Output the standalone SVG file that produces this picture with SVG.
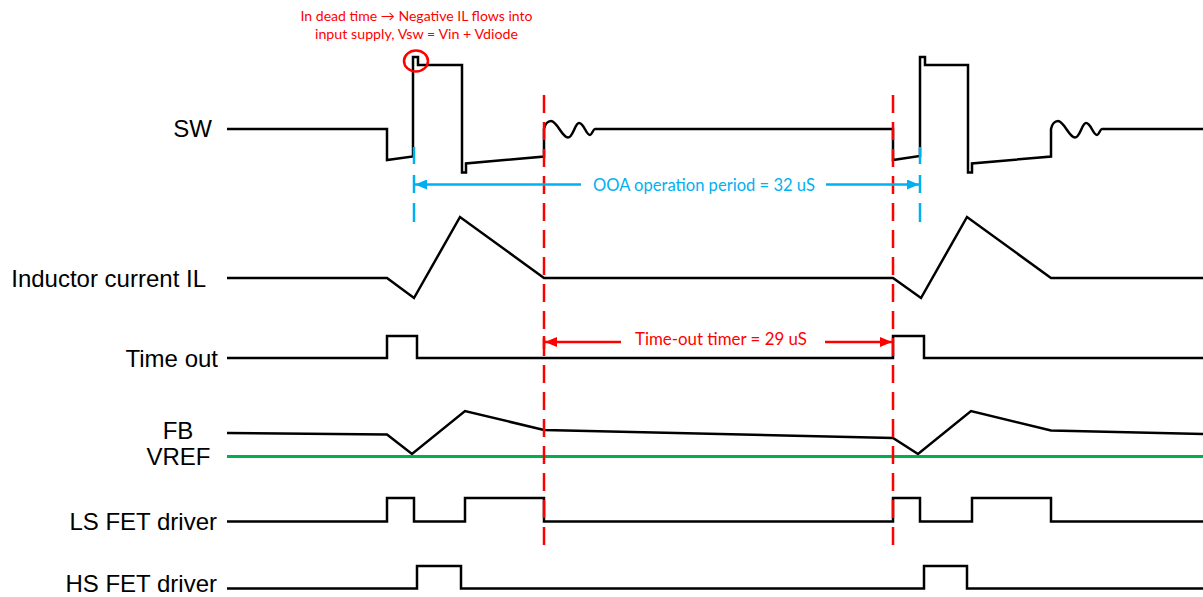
<svg xmlns="http://www.w3.org/2000/svg" width="1203" height="597" viewBox="0 0 1203 597">
  <style>
    .lbl { font-family: "Liberation Sans", Arial, sans-serif; font-size: 24px; fill: #000; }
    .wave { fill: none; stroke: #000; stroke-width: 2.5; stroke-linejoin: miter; }
    .vref { fill: none; stroke: #00B050; stroke-width: 3; }
    .reddash { stroke: #FF0000; stroke-width: 2.5; stroke-dasharray: 18 9; fill: none; }
    .cyan { stroke: #00B0F0; stroke-width: 2.5; fill: none; }
    .red { stroke: #FF0000; stroke-width: 2.5; fill: none; }
    .ann { font-family: Lato, "Open Sans", sans-serif; }
  </style>
  <defs>
    <marker id="ahCyan" viewBox="0 0 12 10" refX="12" refY="5" markerWidth="12" markerHeight="10" markerUnits="userSpaceOnUse" orient="auto-start-reverse">
      <path d="M0,0 L12,5 L0,10 z" fill="#00B0F0"/>
    </marker>
    <marker id="ahRed" viewBox="0 0 12 10" refX="12" refY="5" markerWidth="12" markerHeight="10" markerUnits="userSpaceOnUse" orient="auto-start-reverse">
      <path d="M0,0 L12,5 L0,10 z" fill="#FF0000"/>
    </marker>
  </defs>
  <rect width="1203" height="597" fill="#fff"/>

  <g id="sw">
    <text class="lbl" x="212" y="137" text-anchor="end">SW</text>
    <path class="wave" d="M227,129 H387 V160 L413,156.5 V57 H418 V65 H462 V172.5 H466 V163.5 L544,156.5 V129 C545,124 548,121 551,121 C557,121 562,137.5 568,137.5 C573,137.5 575,123 579,123 C584,123 586,135 590,135 C592,135 593,129 595,129 H893 V160 L920,156 V57 H925 V65 H968 V172.5 H972 V163.5 L1051,156.5 V129 C1052,124 1055,121 1058,121 C1064,121 1069,137.5 1075,137.5 C1080,137.5 1082,123 1086,123 C1091,123 1093,135 1097,135 C1099,135 1100,129 1102,129 H1203"/>
  </g>

  <g id="il">
    <text class="lbl" x="206" y="287" text-anchor="end">Inductor current IL</text>
    <path class="wave" d="M227,278 H387 L414,298 L460,217 L544,278 H893 L921,298 L967,217 L1051,278 H1203"/>
  </g>

  <g id="timeout">
    <text class="lbl" x="218" y="367" text-anchor="end">Time out</text>
    <path class="wave" d="M227,358 H387 V336 H417 V358 H893 V336 H924 V358 H1203"/>
  </g>

  <g id="fb">
    <text class="lbl" x="178" y="438.5" text-anchor="middle" font-size="23">FB</text>
    <path class="wave" d="M227,433 L387,434.5 L412,454 L465,411 L544,430 L893,438 L918,454 L971,411 L1051,430.5 L1203,434"/>
  </g>

  <g id="vref">
    <text class="lbl" x="178.5" y="465" text-anchor="middle" font-size="23">VREF</text>
    <path class="vref" d="M227,456.5 H1203"/>
  </g>

  <g id="ls">
    <text class="lbl" x="217" y="530" text-anchor="end">LS FET driver</text>
    <path class="wave" d="M227,521.5 H387 V498 H414 V521.5 H465 V498 H544 V521.5 H893 V498 H920 V521.5 H972 V498 H1051 V521.5 H1203"/>
  </g>

  <g id="hs">
    <text class="lbl" x="217" y="592" text-anchor="end">HS FET driver</text>
    <path class="wave" d="M227,588.5 H417 V566 H461 V588.5 H924 V566 H967 V588.5 H1203"/>
  </g>

  <g id="annotation">
    <text class="ann" x="416.5" y="21" text-anchor="middle" font-size="14" fill="#FF0000" textLength="232" lengthAdjust="spacingAndGlyphs">In dead time → Negative IL flows into</text>
    <text class="ann" x="416.5" y="39" text-anchor="middle" font-size="14" fill="#FF0000" textLength="203" lengthAdjust="spacingAndGlyphs">input supply, Vsw = Vin + Vdiode</text>
    <ellipse cx="416" cy="61" rx="12" ry="10.5" class="red" stroke-width="2"/>
  </g>

  <g id="connectors">
    <path class="reddash" d="M544,95 V548"/>
    <path class="reddash" d="M893,95 V548"/>
    <path class="cyan" d="M414,147 V164 M414,175 V193 M414,203 V222"/>
    <path class="cyan" d="M920,147 V164 M920,175 V193 M920,203 V222"/>
    <path class="cyan" d="M581,184.5 H415" marker-end="url(#ahCyan)"/>
    <path class="cyan" d="M826,184.5 H919" marker-end="url(#ahCyan)"/>
    <text class="ann" x="704" y="190.5" text-anchor="middle" font-size="18" fill="#00B0F0" textLength="222" lengthAdjust="spacingAndGlyphs">OOA operation period = 32 uS</text>
    <path class="red" d="M544,336 V349"/>
    <path class="red" d="M621,342 H545" marker-end="url(#ahRed)"/>
    <path class="red" d="M825,342 H892" marker-end="url(#ahRed)"/>
    <text class="ann" x="721" y="345" text-anchor="middle" font-size="18" fill="#FF0000" textLength="172" lengthAdjust="spacingAndGlyphs">Time-out timer = 29 uS</text>
  </g>
</svg>
